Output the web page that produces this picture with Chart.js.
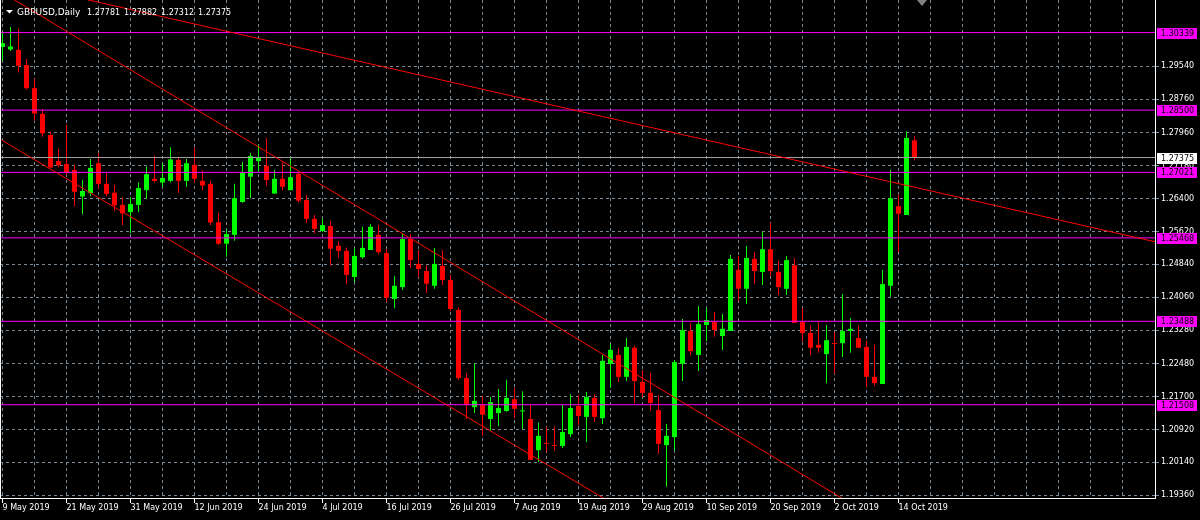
<!DOCTYPE html>
<html>
<head>
<meta charset="utf-8">
<title>GBPUSD,Daily</title>
<script src="https://cdn.jsdelivr.net/npm/chart.js@4.4.0/dist/chart.umd.min.js"></script>
<style>
  html, body { margin: 0; padding: 0; background: #000; }
  #wrap { width: 1200px; height: 520px; }
</style>
</head>
<body>
<div id="wrap"><canvas id="chart" width="1200" height="520"></canvas></div>
<script>
const symbol = 'GBPUSD,Daily';

// daily candles, 9 May 2019 .. 16 Oct 2019 (one per weekday)
const opens = [
  1.3000, 1.2994, 1.2993, 1.2957, 1.2902, 1.2841, 1.2791, 1.2729, 1.2722, 1.2708,
  1.2645, 1.2653, 1.2724, 1.2675, 1.2654, 1.2625, 1.2608, 1.2625, 1.2660, 1.2687,
  1.2678, 1.2682, 1.2732, 1.2682, 1.2720, 1.2682, 1.2675, 1.2584, 1.2533, 1.2554,
  1.2632, 1.2692, 1.2729, 1.2718, 1.2652, 1.2687, 1.2660, 1.2699, 1.2637, 1.2592,
  1.2563, 1.2575, 1.2528, 1.2516, 1.2454, 1.2501, 1.2518, 1.2554, 1.2511, 1.2402,
  1.2430, 1.2544, 1.2485, 1.2468, 1.2433, 1.2480, 1.2447, 1.2376, 1.2214, 1.2145,
  1.2150, 1.2117, 1.2131, 1.2136, 1.2164, 1.2135, 1.2117, 1.2043, 1.2060, 1.2055,
  1.2053, 1.2081, 1.2148, 1.2122, 1.2167, 1.2119, 1.2248, 1.2269, 1.2217, 1.2286,
  1.2205, 1.2179, 1.2138, 1.2055, 1.2074, 1.2248, 1.2326, 1.2269, 1.2340, 1.2347,
  1.2314, 1.2326, 1.2471, 1.2426, 1.2497, 1.2466, 1.2520, 1.2466, 1.2426, 1.2482,
  1.2347, 1.2321, 1.2293, 1.2271, 1.2297, 1.2297, 1.2326, 1.2309, 1.2288, 1.2217,
  1.2200, 1.2433, 1.2622, 1.2601, 1.27781
];
const highs = [
  1.3035, 1.3047, 1.3042, 1.2971, 1.2924, 1.2852, 1.2799, 1.2758, 1.2815, 1.2720,
  1.2684, 1.2734, 1.2748, 1.2700, 1.2672, 1.2642, 1.2643, 1.2678, 1.2716, 1.2743,
  1.2724, 1.2762, 1.2738, 1.2734, 1.2761, 1.2708, 1.2682, 1.2605, 1.2566, 1.2675,
  1.2727, 1.2748, 1.2767, 1.2784, 1.2708, 1.2726, 1.2736, 1.2704, 1.2649, 1.2601,
  1.2593, 1.2587, 1.2539, 1.2524, 1.2522, 1.2573, 1.2580, 1.2577, 1.2520, 1.2456,
  1.2558, 1.2556, 1.2518, 1.2482, 1.2523, 1.2518, 1.2459, 1.2382, 1.2225, 1.2249,
  1.2172, 1.2169, 1.2188, 1.2210, 1.2191, 1.2183, 1.2150, 1.2108, 1.2098, 1.2100,
  1.2150, 1.2176, 1.2174, 1.2181, 1.2176, 1.2269, 1.2295, 1.2286, 1.2309, 1.2290,
  1.2233, 1.2226, 1.2174, 1.2105, 1.2257, 1.2354, 1.2345, 1.2385, 1.2380, 1.2371,
  1.2366, 1.2506, 1.2504, 1.2528, 1.2513, 1.2561, 1.2582, 1.2492, 1.2504, 1.2499,
  1.2380, 1.2338, 1.2347, 1.2340, 1.2323, 1.2414, 1.2357, 1.2338, 1.2302, 1.2293,
  1.2471, 1.2708, 1.2651, 1.2800, 1.27882
];
const lows = [
  1.2967, 1.2990, 1.2939, 1.2899, 1.2825, 1.2787, 1.2712, 1.2714, 1.2696, 1.2622,
  1.2603, 1.2646, 1.2664, 1.2645, 1.2611, 1.2577, 1.2558, 1.2608, 1.2639, 1.2678,
  1.2668, 1.2679, 1.2653, 1.2668, 1.2678, 1.2660, 1.2577, 1.2530, 1.2502, 1.2540,
  1.2630, 1.2641, 1.2704, 1.2670, 1.2652, 1.2660, 1.2660, 1.2630, 1.2582, 1.2557,
  1.2561, 1.2481, 1.2499, 1.2437, 1.2442, 1.2497, 1.2518, 1.2509, 1.2395, 1.2380,
  1.2423, 1.2476, 1.2453, 1.2416, 1.2426, 1.2435, 1.2373, 1.2210, 1.2117, 1.2131,
  1.2077, 1.2089, 1.2100, 1.2134, 1.2119, 1.2093, 1.2020, 1.2015, 1.2039, 1.2043,
  1.2048, 1.2074, 1.2103, 1.2062, 1.2110, 1.2105, 1.2191, 1.2205, 1.2207, 1.2155,
  1.2169, 1.2138, 1.2034, 1.1956, 1.2043, 1.2207, 1.2269, 1.2231, 1.2302, 1.2312,
  1.2281, 1.2326, 1.2397, 1.2390, 1.2438, 1.2435, 1.2456, 1.2411, 1.2411, 1.2345,
  1.2300, 1.2269, 1.2274, 1.2202, 1.2224, 1.2264, 1.2274, 1.2286, 1.2193, 1.2195,
  1.2200, 1.2407, 1.2513, 1.2601, 1.27312
];
const closes = [
  1.3009, 1.3001, 1.2955, 1.2902, 1.2842, 1.2795, 1.2714, 1.2719, 1.2702, 1.2656,
  1.2658, 1.2713, 1.2675, 1.2651, 1.2624, 1.2605, 1.2627, 1.2665, 1.2698, 1.2682,
  1.2689, 1.2733, 1.2682, 1.2724, 1.2687, 1.2671, 1.2583, 1.2533, 1.2556, 1.2641,
  1.2701, 1.2741, 1.2738, 1.2684, 1.2687, 1.2668, 1.2691, 1.2635, 1.2592, 1.2568,
  1.2577, 1.2521, 1.2516, 1.2459, 1.2504, 1.2523, 1.2573, 1.2513, 1.2405, 1.2433,
  1.2544, 1.2494, 1.2473, 1.2438, 1.2485, 1.2447, 1.2378, 1.2214, 1.2150, 1.2160,
  1.2127, 1.2157, 1.2143, 1.2167, 1.2141, 1.2137, 1.2020, 1.2077, 1.2058, 1.2053,
  1.2086, 1.2143, 1.2124, 1.2169, 1.2122, 1.2255, 1.2281, 1.2217, 1.2288, 1.2207,
  1.2179, 1.2155, 1.2058, 1.2077, 1.2252, 1.2328, 1.2278, 1.2342, 1.2352, 1.2328,
  1.2331, 1.2497, 1.2426, 1.2499, 1.2468, 1.2520, 1.2468, 1.2430, 1.2494, 1.2345,
  1.2321, 1.2286, 1.2286, 1.2304, 1.2295, 1.2326, 1.2331, 1.2286, 1.2217, 1.2202,
  1.2437, 1.2641, 1.2604, 1.2784, 1.27375
];

// date label every 8th bar
const dateTicks = ['9 May 2019', '21 May 2019', '31 May 2019', '12 Jun 2019', '24 Jun 2019',
  '4 Jul 2019', '16 Jul 2019', '26 Jul 2019', '7 Aug 2019', '19 Aug 2019', '29 Aug 2019',
  '10 Sep 2019', '20 Sep 2019', '2 Oct 2019', '14 Oct 2019'];
const priceTicks = [1.19360, 1.20140, 1.20920, 1.21700, 1.22480, 1.23280, 1.24060,
  1.24840, 1.25620, 1.26400, 1.27180, 1.27960, 1.28760, 1.29540];

// horizontal levels + trend lines drawn on the chart
const levels = [1.30339, 1.28500, 1.27021, 1.25468, 1.23488, 1.21508];
const lastPrice = 1.27375;
const trendA = [{ x: -1, y: 1.3140 }, { x: 110, y: 1.1871 }];
const trendB = [{ x: -1, y: 1.2789 }, { x: 80, y: 1.1874 }];
const trendC = [{ x: -1, y: 1.3162 }, { x: 150, y: 1.2512 }];

const UP = '#00ff00';
const DOWN = '#ff0000';
const GRID = '#778899';
const FONT = "'DejaVu Sans', sans-serif";

const barColors = opens.map((o, i) => closes[i] >= o ? UP : DOWN);
const bodies = opens.map((o, i) => ({ x: i, y: [o, closes[i]] }));
const wicks = lows.map((l, i) => ({ x: i, y: [l, highs[i]] }));

const gridIdx = [];
for (let i = 0; i <= 140; i += 4) gridIdx.push(i);

function dateLabel(v) {
    if (v % 8 !== 0) return '';
    return dateTicks[v / 8] || '';
}

function hline(price, color) {
    return {
        type: 'line',
        data: [{ x: -1, y: price }, { x: 150, y: price }],
        borderColor: color,
        borderWidth: 1,
        pointRadius: 0,
        order: 1
    };
}

function trend(points) {
    return { type: 'line', data: points, borderColor: '#ff0000', borderWidth: 1, pointRadius: 0, order: 1 };
}

const overlay = {
    id: 'overlay',
    afterDraw(chart) {
        const { ctx, chartArea } = chart;
        const y = chart.scales.y;
        const x = chart.scales.x;
        ctx.save();

        // left frame
        ctx.strokeStyle = '#ffffff';
        ctx.lineWidth = 1;
        ctx.beginPath();
        ctx.moveTo(0.5, chartArea.top);
        ctx.lineTo(0.5, chartArea.bottom);
        ctx.stroke();

        // price tags on the right scale
        ctx.font = '8px ' + FONT;
        ctx.textBaseline = 'middle';
        ctx.textAlign = 'left';
        const tag = (p, bg) => {
            const py = Math.round(y.getPixelForValue(p));
            ctx.fillStyle = bg;
            ctx.fillRect(chartArea.right + 2, py - 5, 40, 11);
            ctx.fillStyle = '#000000';
            ctx.fillText(p.toFixed(5), chartArea.right + 6, py + 0.5);
        };
        levels.forEach(p => tag(p, '#ff00ff'));
        tag(lastPrice, '#ffffff');

        // header
        const n = closes.length - 1;
        ctx.fillStyle = '#ffffff';
        ctx.beginPath();
        ctx.moveTo(6, 10);
        ctx.lineTo(13, 10);
        ctx.lineTo(9.5, 13.5);
        ctx.closePath();
        ctx.fill();
        ctx.textBaseline = 'alphabetic';
        ctx.font = '9px ' + FONT;
        ctx.fillText(symbol, 17, 15);
        ctx.font = '8px ' + FONT;
        [opens[n], highs[n], lows[n], closes[n]].forEach((v, k) => {
            ctx.fillText(v.toFixed(5), 87 + k * 37, 15);
        });

        // chart shift marker
        const sx = Math.round(x.getPixelForValue(n + 1)) - 1;
        ctx.fillStyle = '#808080';
        ctx.beginPath();
        ctx.moveTo(sx - 5, 0);
        ctx.lineTo(sx + 5, 0);
        ctx.lineTo(sx, 6);
        ctx.closePath();
        ctx.fill();

        ctx.restore();
    }
};

const ctx = document.getElementById('chart').getContext('2d');

const config = {
    type: 'bar',
    data: {
        datasets: [
            {
                label: 'wicks',
                data: wicks,
                backgroundColor: barColors,
                barThickness: 1,
                grouped: false,
                inflateAmount: 0,
                order: 3
            },
            {
                label: 'bodies',
                data: bodies,
                backgroundColor: barColors,
                barThickness: 5,
                minBarLength: 1,
                grouped: false,
                inflateAmount: 0,
                order: 2
            },
            trend(trendA),
            trend(trendB),
            trend(trendC),
            ...levels.map(p => hline(p, '#ff00ff')),
            hline(lastPrice, '#a0a0a0')
        ]
    },
    options: {
        responsive: false,
        animation: false,
        layout: { padding: 0 },
        plugins: {
            legend: { display: false },
            tooltip: { enabled: false }
        },
        scales: {
            x: {
                type: 'linear',
                min: -0.3125,
                max: 144.0625,
                offset: false,
                afterBuildTicks: s => { s.ticks = gridIdx.map(v => ({ value: v })); },
                afterFit: s => { s.height = 22; s.paddingLeft = 0; s.paddingRight = 0; },
                grid: {
                    color: GRID,
                    offset: false,
                    tickLength: 5,
                    tickColor: c => (c.tick && dateLabel(c.tick.value)) ? '#ffffff' : 'rgba(0,0,0,0)'
                },
                border: { color: '#ffffff', width: 1, dash: [3, 3] },
                ticks: {
                    autoSkip: false,
                    maxRotation: 0,
                    align: 'start',
                    padding: 0,
                    color: '#ffffff',
                    font: { family: FONT, size: 8 },
                    callback: v => dateLabel(v)
                }
            },
            y: {
                position: 'right',
                min: 1.19295,
                max: 1.31113,
                beginAtZero: false,
                afterBuildTicks: s => { s.ticks = priceTicks.map(v => ({ value: v })); },
                afterFit: s => { s.width = 45; s.paddingTop = 0; s.paddingBottom = 0; },
                grid: { color: GRID, tickLength: 4, tickColor: GRID },
                border: { color: '#ffffff', width: 1, dash: [3, 3] },
                ticks: {
                    color: '#ffffff',
                    padding: 2,
                    font: { family: FONT, size: 8 },
                    callback: v => v.toFixed(5)
                }
            }
        }
    },
    plugins: [overlay]
};

const myChart = new Chart(ctx, config);
</script>
</body>
</html>
